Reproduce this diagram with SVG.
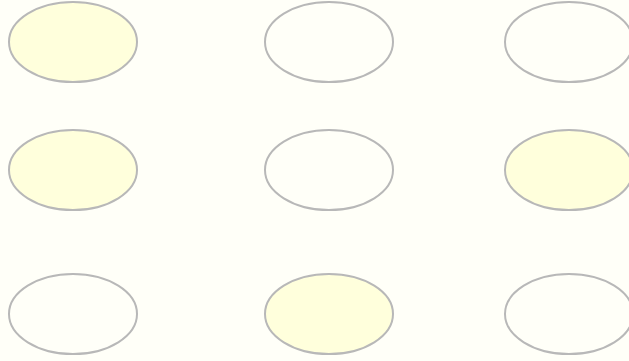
<svg xmlns="http://www.w3.org/2000/svg" width="629" height="361" viewBox="0 0 629 361">
<style>
.n{fill:#fffff8;stroke:#b8b8b8;stroke-width:2}
.f{fill:#ffffdc}
</style>
<rect width="629" height="361" fill="#fffff8"/>
<g id="connectors"></g>
<g id="n1"><ellipse class="n f" cx="73" cy="42" rx="64" ry="40"/></g>
<g id="n2"><ellipse class="n" cx="329" cy="42" rx="64" ry="40"/></g>
<g id="n3"><ellipse class="n" cx="569" cy="42" rx="64" ry="40"/></g>
<g id="n4"><ellipse class="n f" cx="73" cy="170" rx="64" ry="40"/></g>
<g id="n5"><ellipse class="n" cx="329" cy="170" rx="64" ry="40"/></g>
<g id="n6"><ellipse class="n f" cx="569" cy="170" rx="64" ry="40"/></g>
<g id="n7"><ellipse class="n" cx="73" cy="314" rx="64" ry="40"/></g>
<g id="n8"><ellipse class="n f" cx="329" cy="314" rx="64" ry="40"/></g>
<g id="n9"><ellipse class="n" cx="569" cy="314" rx="64" ry="40"/></g>
</svg>
